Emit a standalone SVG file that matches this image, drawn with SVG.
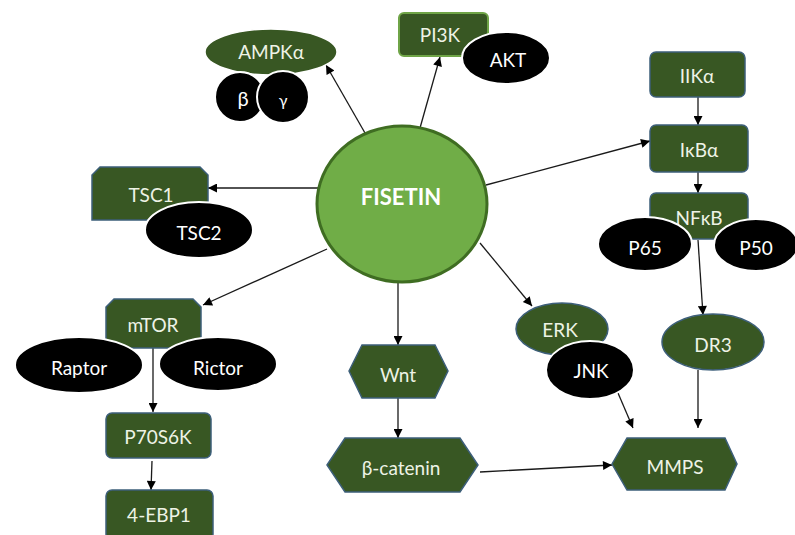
<svg xmlns="http://www.w3.org/2000/svg" width="795" height="535" viewBox="0 0 795 535">
<defs>
<marker id="ah" viewBox="0 0 10 10" refX="10" refY="5" markerWidth="10" markerHeight="9" markerUnits="userSpaceOnUse" orient="auto">
<path d="M0,0 L10,5 L0,10 z" fill="#000"/>
</marker>
<style>
.g{fill:#385723;stroke:#3d5f7a;stroke-width:1.5}
.gp{fill:#385723;stroke:#6fa447;stroke-width:2}
.b{fill:#000;stroke:#fff;stroke-width:2}
.t{font-family:Lato,"Open Sans","Liberation Sans",sans-serif;font-size:19px;fill:#eef3e6;text-anchor:middle;dominant-baseline:central}
.tb{fill:#fff}
.c line{stroke:#1a1a1a;stroke-width:1.3;marker-end:url(#ah)}
</style>
</defs>
<rect width="795" height="535" fill="#fff"/>

<g class="c" id="connectors">
<line x1="365" y1="133" x2="326" y2="65"/>
<line x1="420" y1="128" x2="440" y2="57"/>
<line x1="486" y1="185" x2="650" y2="141"/>
<line x1="698" y1="97" x2="698" y2="125"/>
<line x1="698" y1="172" x2="698" y2="193"/>
<line x1="698" y1="240" x2="703" y2="315"/>
<line x1="698" y1="370" x2="698" y2="428"/>
<line x1="618" y1="393" x2="633" y2="428"/>
<line x1="480" y1="243" x2="532" y2="306"/>
<line x1="398" y1="282" x2="398" y2="345"/>
<line x1="398" y1="398" x2="398" y2="438"/>
<line x1="480" y1="472" x2="612" y2="465"/>
<line x1="320" y1="188" x2="208" y2="188"/>
<line x1="327" y1="249" x2="203" y2="305"/>
<line x1="153" y1="348" x2="153" y2="412"/>
<line x1="152" y1="461" x2="151" y2="490"/>
</g>

<g id="fisetin">
<ellipse cx="402" cy="204" rx="85" ry="78" fill="#70ad47" stroke="#3f6d22" stroke-width="3"/>
<text class="t tb" x="401" y="196" style="font-weight:bold;font-size:22px">FISETIN</text>
</g>

<g id="ampk">
<ellipse class="g" cx="271" cy="52" rx="66" ry="23" style="stroke:#fff"/>
<text class="t" x="271" y="51">AMPKα</text>
</g>
<g id="beta">
<circle class="b" cx="240" cy="97" r="25"/>
<text class="t tb" x="243" y="98" style="font-size:20px">β</text>
</g>
<g id="gamma">
<circle class="b" cx="283" cy="97" r="26"/>
<text class="t tb" x="283" y="99" style="font-size:16px">γ</text>
</g>

<g id="pi3k">
<rect class="gp" x="399" y="13" width="89" height="43" rx="5"/>
<text class="t" x="440" y="34">PI3K</text>
</g>
<g id="akt">
<ellipse class="b" cx="506" cy="58" rx="44" ry="26"/>
<text class="t tb" x="508" y="59">AKT</text>
</g>

<g id="iika">
<rect class="g" x="650" y="52" width="95" height="45" rx="6"/>
<text class="t" x="697" y="75">IIKα</text>
</g>
<g id="ikba">
<rect class="g" x="650" y="125" width="98" height="47" rx="6"/>
<text class="t" x="699" y="149">IκBα</text>
</g>
<g id="nfkb">
<rect class="g" x="650" y="193" width="98" height="46" rx="6"/>
<text class="t" x="699" y="217">NFκB</text>
</g>
<g id="p65">
<ellipse class="b" cx="645" cy="244" rx="47" ry="27"/>
<text class="t tb" x="645" y="247">P65</text>
</g>
<g id="p50">
<ellipse class="b" cx="756" cy="245" rx="42" ry="26"/>
<text class="t tb" x="756" y="247">P50</text>
</g>

<g id="dr3">
<ellipse class="g" cx="713" cy="342" rx="51" ry="28"/>
<text class="t" x="713" y="344">DR3</text>
</g>

<g id="erk">
<ellipse class="g" cx="562" cy="329" rx="46" ry="26"/>
<text class="t" x="560" y="329">ERK</text>
</g>
<g id="jnk">
<ellipse class="b" cx="590" cy="370" rx="44" ry="29"/>
<text class="t tb" x="591" y="370">JNK</text>
</g>

<g id="mmps">
<polygon class="g" points="612,464 627,438 725,438 737,464 725,490 627,490"/>
<text class="t" x="675" y="466">MMPS</text>
</g>

<g id="wnt">
<polygon class="g" points="349,371 362,345 435,345 448,371 435,398 362,398"/>
<text class="t" x="398" y="374">Wnt</text>
</g>
<g id="bcatenin">
<polygon class="g" points="327,465 345,438 460,438 478,465 460,492 345,492"/>
<text class="t" x="401" y="467">β-catenin</text>
</g>

<g id="tsc1">
<polygon class="g" points="100,167 200,167 208,175 208,220 92,220 92,175"/>
<text class="t" x="151" y="194">TSC1</text>
</g>
<g id="tsc2">
<ellipse class="b" cx="199" cy="230" rx="54" ry="28"/>
<text class="t tb" x="199" y="232">TSC2</text>
</g>

<g id="mtor">
<polygon class="g" points="114,299 193,299 201,307 201,348 106,348 106,307"/>
<text class="t" x="153" y="324">mTOR</text>
</g>
<g id="raptor">
<ellipse class="b" cx="79" cy="365" rx="64" ry="28"/>
<text class="t tb" x="79" y="367">Raptor</text>
</g>
<g id="rictor">
<ellipse class="b" cx="218" cy="364" rx="59" ry="27"/>
<text class="t tb" x="218" y="367">Rictor</text>
</g>

<g id="p70s6k">
<rect class="g" x="106" y="413" width="105" height="45" rx="6"/>
<text class="t" x="158" y="436">P70S6K</text>
</g>
<g id="ebp1">
<rect class="g" x="106" y="490" width="107" height="50" rx="6"/>
<text class="t" x="159" y="514">4-EBP1</text>
</g>
</svg>
